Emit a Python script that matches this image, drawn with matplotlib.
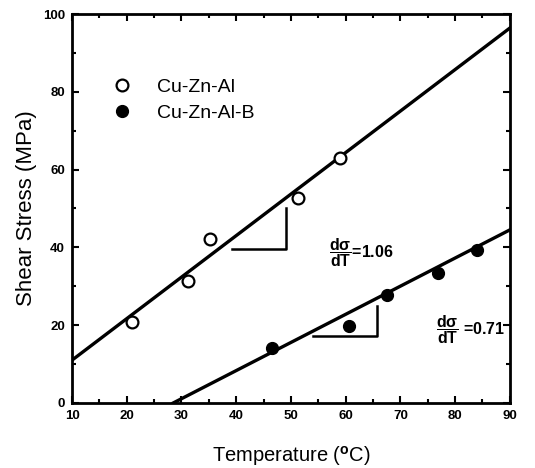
import numpy as np
import matplotlib.pyplot as plt
from matplotlib.ticker import MultipleLocator

plt.rcParams['font.family'] = ['Liberation Sans', 'DejaVu Sans']
plt.rcParams['mathtext.fontset'] = 'custom'
plt.rcParams['mathtext.rm'] = 'Liberation Sans:bold'
plt.rcParams['mathtext.it'] = 'Liberation Sans:bold'
plt.rcParams['mathtext.bf'] = 'Liberation Sans:bold'

# Cu-Zn-Al (open circles)
t_open = [21.0, 31.2, 35.3, 51.3, 58.9]
s_open = [20.9, 31.4, 42.1, 52.7, 63.0]
# Cu-Zn-Al-B (filled circles)
t_fill = [46.5, 60.6, 67.5, 76.8, 84.0]
s_fill = [14.1, 19.8, 27.8, 33.5, 39.3]

# fitted lines (end points)
fit_open_t = [10, 90]
fit_open_s = [11.0, 96.4]
fit_fill_t = [28.5, 90]
fit_fill_s = [0.0, 44.5]

# slope triangles
tri_open_t = [39.2, 49.1, 49.1]
tri_open_s = [39.6, 39.6, 50.1]
tri_fill_t = [54.0, 65.7, 65.7]
tri_fill_s = [17.1, 17.1, 24.9]

fig = plt.figure(figsize=(5.35, 4.68), dpi=100)
ax = fig.add_axes([0.1346, 0.139, 0.8184, 0.831])

ax.plot(fit_open_t, fit_open_s, color='black', lw=2.4)
ax.plot(fit_fill_t, fit_fill_s, color='black', lw=2.4)
ax.plot(tri_open_t, tri_open_s, color='black', lw=1.8)
ax.plot(tri_fill_t, tri_fill_s, color='black', lw=1.8)

ax.plot(t_open, s_open, 'o', mfc='white', mec='black', mew=1.6, ms=8.5,
        label='Cu-Zn-Al')
ax.plot(t_fill, s_fill, 'o', mfc='black', mec='black', ms=8.5,
        label='Cu-Zn-Al-B')

ax.text(56.9, 38.8, r'$\dfrac{d\sigma}{dT}$=1.06', fontsize=11.5, fontweight='bold',
        ha='left', va='center')
ax.text(76.5, 18.8, r'$\dfrac{d\sigma}{dT}$ =0.71', fontsize=11.5, fontweight='bold',
        ha='left', va='center')

ax.set_xlim(10, 90)
ax.set_ylim(0, 100)
ax.xaxis.set_major_locator(MultipleLocator(10))
ax.xaxis.set_minor_locator(MultipleLocator(5))
ax.yaxis.set_major_locator(MultipleLocator(20))
ax.yaxis.set_minor_locator(MultipleLocator(10))
ax.tick_params(which='both', direction='in', top=True, right=True, width=1.5)
ax.tick_params(which='major', length=5, labelsize=9.5, pad=5)
ax.tick_params(which='minor', length=3)
for lab in ax.get_xticklabels() + ax.get_yticklabels():
    lab.set_fontweight('bold')
for sp in ax.spines.values():
    sp.set_linewidth(2)

ax.set_xlabel('Temperature ($^{o}$C)', fontsize=14.5, labelpad=16)
ax.set_ylabel('Shear Stress (MPa)', fontsize=16, labelpad=4)

ax.legend(loc='upper left', bbox_to_anchor=(0.03, 0.88), frameon=False,
          fontsize=14, handletextpad=0.8, labelspacing=0.45)

fig.savefig('out.png', dpi=100)
